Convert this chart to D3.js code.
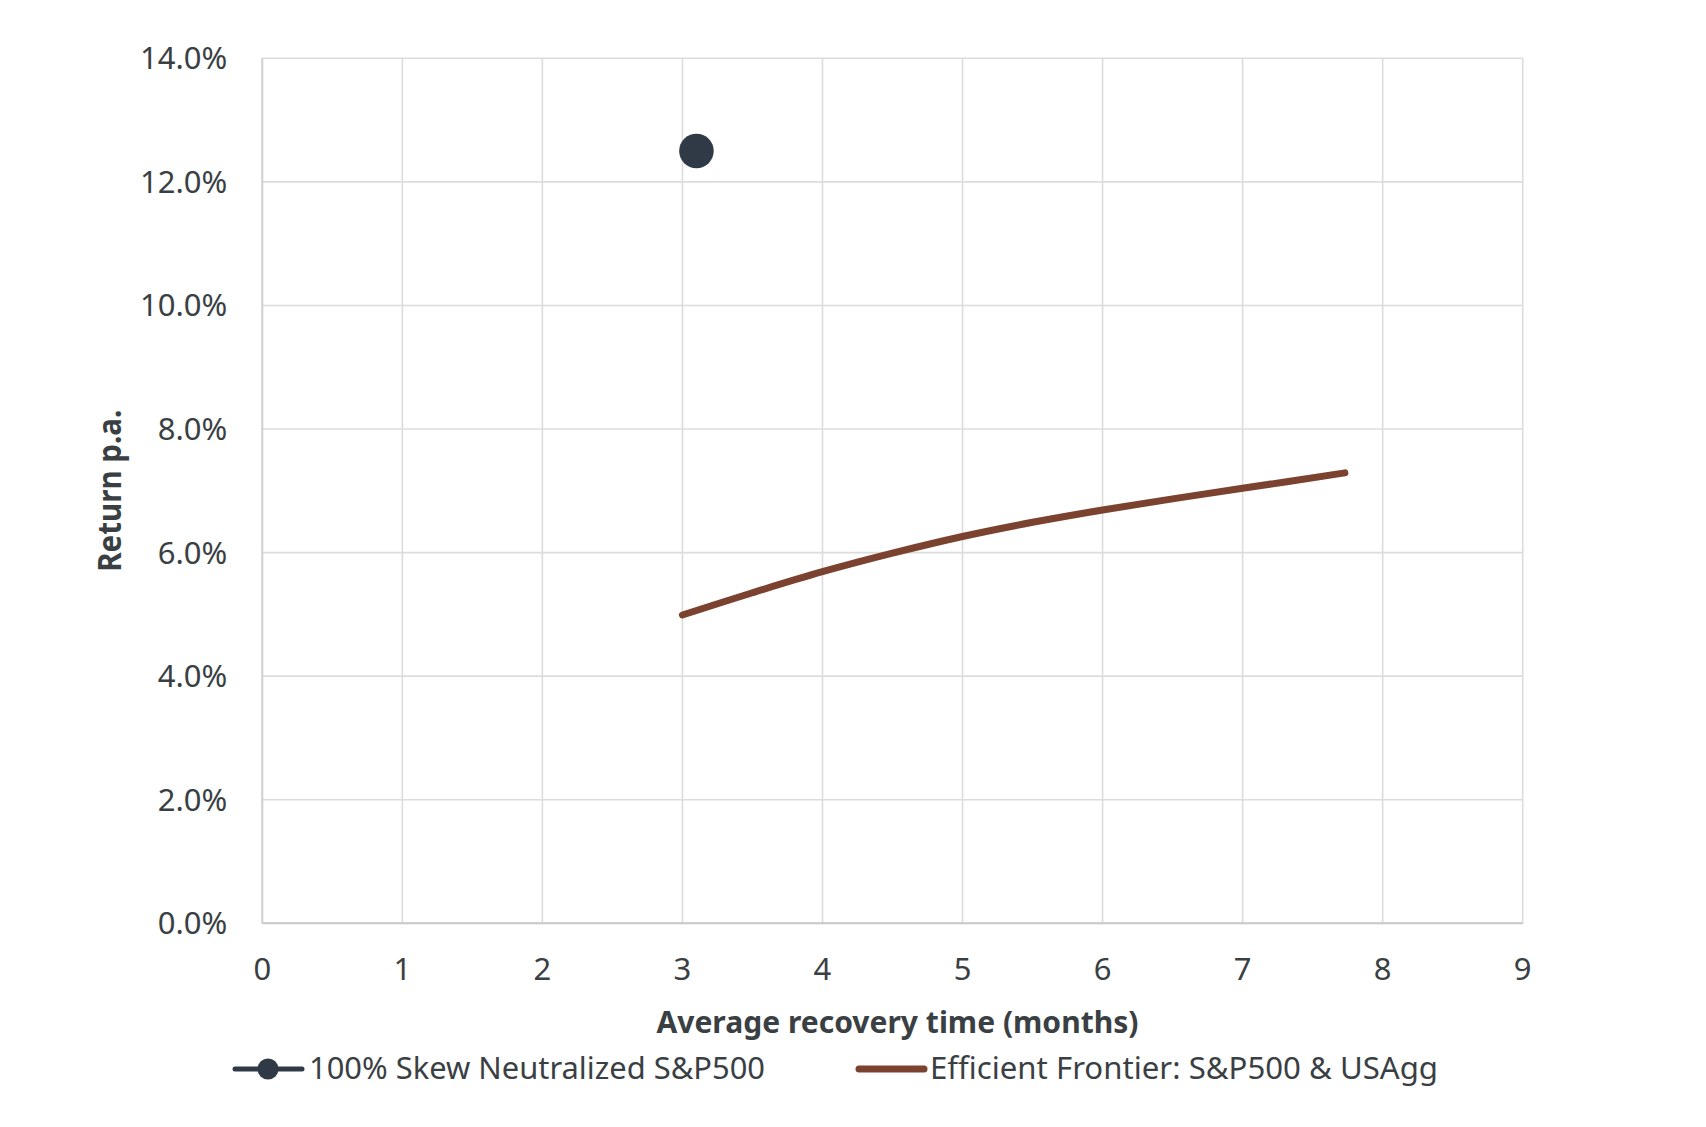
<!DOCTYPE html>
<html>
<head>
<meta charset="utf-8">
<script src="https://cdn.jsdelivr.net/npm/d3@7"></script>
<style>
  html, body { margin: 0; padding: 0; background: #ffffff; }
  svg { display: block; }
  text { font-family: "Noto Sans", "Open Sans", sans-serif; fill: #3a3f44; }
</style>
</head>
<body>
<svg id="chart" width="1706" height="1127"></svg>
<script>
// ---- Data ----
const xTicks = [0, 1, 2, 3, 4, 5, 6, 7, 8, 9];
const yTicks = [0, 0.02, 0.04, 0.06, 0.08, 0.10, 0.12, 0.14];

const skewLabel = "100% Skew Neutralized S&P500";
const skewX = [3.1];
const skewY = [0.125];

const frontierLabel = "Efficient Frontier: S&P500 & USAgg";
const frontierX = [3.0, 3.5, 4.0, 4.5, 5.0, 5.5, 6.0, 6.5, 7.0, 7.73];
const frontierY = [0.0499, 0.0535, 0.0569, 0.0599, 0.0626, 0.0649, 0.0669, 0.0687, 0.0704, 0.0729];

const xTitle = "Average recovery time (months)";
const yTitle = "Return p.a.";

// ---- Layout ----
const svg = d3.select("#chart");
const plot = { left: 262.3, right: 1522.7, top: 58.3, bottom: 923.3 };

const x = d3.scaleLinear().domain([0, 9]).range([plot.left, plot.right]);
const y = d3.scaleLinear().domain([0, 0.14]).range([plot.bottom, plot.top]);

const gridColor = "#dcdcdc";

// Grid
const g = svg.append("g");
g.selectAll("line.vg").data(xTicks).join("line")
  .attr("x1", d => x(d)).attr("x2", d => x(d))
  .attr("y1", plot.top).attr("y2", plot.bottom)
  .attr("stroke", gridColor).attr("stroke-width", 1.6);
g.selectAll("line.hg").data(yTicks).join("line")
  .attr("x1", plot.left).attr("x2", plot.right)
  .attr("y1", d => y(d)).attr("y2", d => y(d))
  .attr("stroke", gridColor).attr("stroke-width", 1.6);
g.append("line")
  .attr("x1", plot.left).attr("x2", plot.right)
  .attr("y1", y(0)).attr("y2", y(0))
  .attr("stroke", "#c8c8c8").attr("stroke-width", 2);
g.append("line")
  .attr("x1", x(0)).attr("x2", x(0))
  .attr("y1", plot.top).attr("y2", plot.bottom)
  .attr("stroke", "#cfd3d3").attr("stroke-width", 2);

// Y tick labels
const yFmt = d3.format(".1%");
svg.append("g").selectAll("text").data(yTicks).join("text")
  .attr("x", plot.left - 35)
  .attr("y", d => y(d) + 11)
  .attr("text-anchor", "end")
  .attr("font-size", 31)
  .text(d => yFmt(d));

// X tick labels
svg.append("g").selectAll("text").data(xTicks).join("text")
  .attr("x", d => x(d))
  .attr("y", 980)
  .attr("text-anchor", "middle")
  .attr("font-size", 31)
  .text(d => d);

// Axis titles
svg.append("text")
  .attr("x", (plot.left + plot.right) / 2 + 5)
  .attr("y", 1033)
  .attr("text-anchor", "middle")
  .attr("font-size", 30)
  .attr("font-weight", "bold")
  .attr("textLength", 482)
  .attr("lengthAdjust", "spacingAndGlyphs")
  .text(xTitle);

svg.append("text")
  .attr("transform", `translate(121,${(plot.top + plot.bottom) / 2}) rotate(-90)`)
  .attr("text-anchor", "middle")
  .attr("font-size", 32)
  .attr("font-weight", "bold")
  .attr("textLength", 162)
  .attr("lengthAdjust", "spacingAndGlyphs")
  .text(yTitle);

// Frontier line
const frontier = frontierX.map((v, i) => [v, frontierY[i]]);
svg.append("path")
  .datum(frontier)
  .attr("fill", "none")
  .attr("stroke", "#7b4230")
  .attr("stroke-width", 7)
  .attr("stroke-linecap", "round")
  .attr("d", d3.line().x(d => x(d[0])).y(d => y(d[1])).curve(d3.curveCatmullRom));

// Skew point
const skew = skewX.map((v, i) => [v, skewY[i]]);
svg.append("g").selectAll("circle").data(skew).join("circle")
  .attr("cx", d => x(d[0])).attr("cy", d => y(d[1]))
  .attr("r", 17.3)
  .attr("fill", "#2f3a46");

// Legend
const ly = 1069;
const leg = svg.append("g");
leg.append("line").attr("x1", 235).attr("x2", 302).attr("y1", ly).attr("y2", ly)
  .attr("stroke", "#2f3a46").attr("stroke-width", 5).attr("stroke-linecap", "round");
leg.append("circle").attr("cx", 268).attr("cy", ly).attr("r", 10.5).attr("fill", "#2f3a46");
leg.append("text").attr("x", 309).attr("y", 1078.5).attr("font-size", 31)
  .attr("textLength", 456).attr("lengthAdjust", "spacingAndGlyphs")
  .text(skewLabel);

leg.append("line").attr("x1", 859).attr("x2", 924).attr("y1", ly).attr("y2", ly)
  .attr("stroke", "#7b4230").attr("stroke-width", 7).attr("stroke-linecap", "round");
leg.append("text").attr("x", 930).attr("y", 1078.5).attr("font-size", 31)
  .attr("textLength", 508).attr("lengthAdjust", "spacingAndGlyphs")
  .text(frontierLabel);
</script>
</body>
</html>
